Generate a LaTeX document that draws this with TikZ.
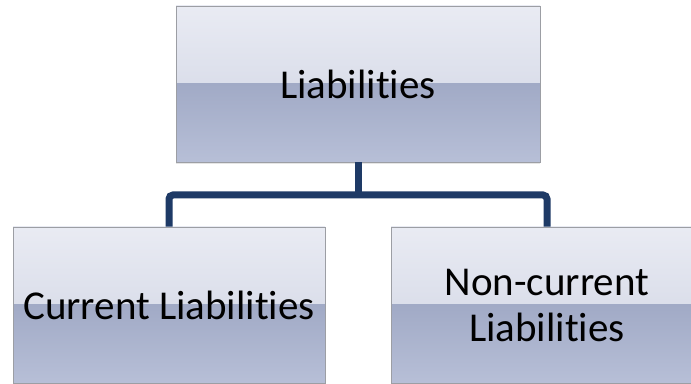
\documentclass[tikz,border=0pt]{standalone}
\usepackage{fontspec}
\setmainfont{Carlito}[Ligatures={NoCommon}]
\usetikzlibrary{shadows}
\definecolor{glasstop}{HTML}{E9EBF3}
\definecolor{glassmid}{HTML}{CDD2E2}
\definecolor{glasslow}{HTML}{A1AAC6}
\definecolor{glassbot}{HTML}{B7BFD7}
\definecolor{boxrim}{HTML}{9C9EA4}
\definecolor{linkblue}{HTML}{1E3A66}
\tikzset{
  glassbox/.style={draw=boxrim, line width=0.8pt, align=center,
    font=\fontsize{41}{46}\selectfont, text=black,
    drop shadow={opacity=0.2, shadow xshift=0pt, shadow yshift=-2pt},
    path picture={
      \fill[top color=glasstop, bottom color=glassmid]
        (path picture bounding box.north west) rectangle (path picture bounding box.east);
      \fill[top color=glasslow, bottom color=glassbot]
        (path picture bounding box.west) rectangle (path picture bounding box.south east);
    }},
  link/.style={draw=linkblue, line width=7pt, rounded corners=4pt}
}
\begin{document}
\begin{tikzpicture}[x=1pt,y=1pt]
\useasboundingbox (0.000000, 0.000000) rectangle (691.000000, 383.000000);
\fill[white] (0.000000, 0.000000) rectangle (691.000000, 383.000000);
% Drawing boxes
\node[glassbox, minimum width=364pt, minimum height=156pt] (liab) at (358.000000, 299.000000) {Liabilities};
\node[glassbox, minimum width=312pt, minimum height=156pt] (curr) at (169.000000, 78.000000) {Current Liabilities};
\node[glassbox, minimum width=312pt, minimum height=156pt] (noncurr) at (547.000000, 78.000000) {Non-current\\Liabilities};
% Drawing links
\coordinate (fork) at (358.000000, 188.000000);
\draw[link] (liab.south) -- (fork);
\draw[link] (curr.north) |- (fork) -| (noncurr.north);
\end{tikzpicture}
\end{document}
